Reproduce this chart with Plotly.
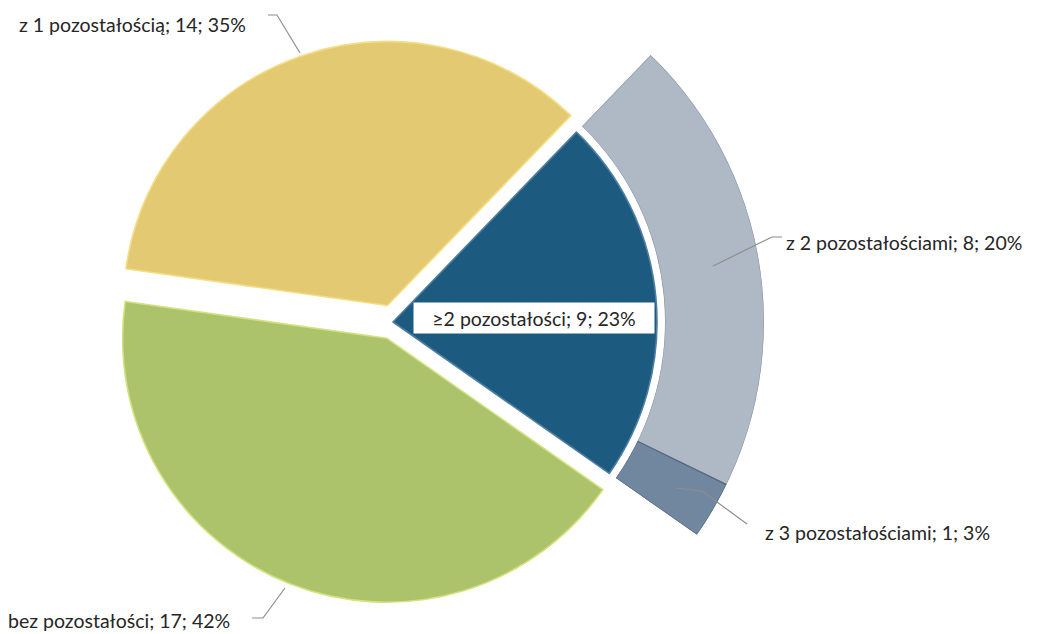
import math
import plotly.graph_objects as go

W, H = 1040, 634

# Main pie: share of samples by number of residues found
labels = ["≥2 pozostałości", "bez pozostałości", "z 1 pozostałością"]
counts = [9, 17, 14]
percents = [23, 42, 35]

# Breakdown of the "≥2" group shown as the outer ring
sub_labels = ["z 2 pozostałościami", "z 3 pozostałościami"]
sub_counts = [8, 1]
sub_percents = [20, 3]

# Styling
colors = ["#1C5A7F", "#ADC36B", "#E2C972"]
edge_colors = ["#4F7FA0", "#D2E27F", "#F3DE86"]
sub_colors = ["#AEB9C5", "#71869F"]
sub_edges = ["#8C98A6", "#55677F"]
FONT = "Lato"
FONT_SIZE = 19.5
TEXT_COLOR = "#262626"
LEADER_COLOR = "#8E8E8E"

# Geometry in pixels
CX, CY = 393, 322          # pie centre
R_PIE = 264                # pie radius
PULL = [0.0, 0.066, 0.066]
ROTATION = 44              # first slice starts 44 deg clockwise from 12 o'clock
R_RING_OUT = 371
R_RING_IN = 272

total = sum(counts)

# --- main pie -------------------------------------------------------------
half = R_PIE * (1 + max(PULL))
pie_domain = dict(
    x=[(CX - half) / W, (CX + half) / W],
    y=[1 - (CY + half) / H, 1 - (CY - half) / H],
)

fig = go.Figure()
fig.add_trace(go.Pie(
    labels=labels,
    values=counts,
    sort=False,
    direction="clockwise",
    rotation=ROTATION,
    pull=PULL,
    textinfo="none",
    hoverinfo="label+value+percent",
    marker=dict(colors=colors, line=dict(color=edge_colors, width=1.6)),
    domain=pie_domain,
    showlegend=False,
))

# --- outer ring for the "≥2" slice, drawn in a polar sector ---------------
start_deg = 90 - ROTATION                       # math angle where the slice begins
span_deg = 360 * counts[0] / total
end_deg = start_deg - span_deg
sector = [end_deg, start_deg]


def sector_bbox(s0, s1):
    """Bounding box of a polar sector (unit radius, origin included)."""
    pts_x = [0.0]
    pts_y = [0.0]
    for a in (s0, s1):
        pts_x.append(math.cos(math.radians(a)))
        pts_y.append(math.sin(math.radians(a)))
    for k in range(-4, 5):
        a = 90 * k
        if s0 <= a <= s1:
            pts_x.append(math.cos(math.radians(a)))
            pts_y.append(math.sin(math.radians(a)))
    return min(pts_x), min(pts_y), max(pts_x), max(pts_y)


bx0, by0, bx1, by1 = sector_bbox(*sector)
polar_domain = dict(
    x=[(CX + R_RING_OUT * bx0) / W, (CX + R_RING_OUT * bx1) / W],
    y=[1 - (CY - R_RING_OUT * by0) / H, 1 - (CY - R_RING_OUT * by1) / H],
)

sub_total = sum(sub_counts)
theta_c, widths = [], []
cur = start_deg
for c in sub_counts:
    w = span_deg * c / sub_total
    theta_c.append(cur - w / 2)
    widths.append(w)
    cur -= w

fig.add_trace(go.Barpolar(
    r=[1] * len(sub_counts),
    base=[0] * len(sub_counts),
    theta=theta_c,
    width=widths,
    text=sub_labels,
    hoverinfo="text",
    marker=dict(color=sub_colors, line=dict(color=sub_edges, width=1.2)),
    showlegend=False,
))

fig.update_layout(
    polar=dict(
        domain=polar_domain,
        sector=sector,
        hole=R_RING_IN / R_RING_OUT,
        bgcolor="rgba(0,0,0,0)",
        radialaxis=dict(visible=False, range=[0, 1]),
        angularaxis=dict(visible=False, rotation=0, direction="counterclockwise"),
        bargap=0,
    ),
)

# --- labels and leader lines ---------------------------------------------


def P(x, y):
    return x / W, 1 - y / H


def label_text(name, n, pct):
    return f"{name}; {n}; {pct}%"


outside = [
    # text, anchor point (left, middle), leader path
    (label_text(labels[2], counts[2], percents[2]), (17, 25),
     [(268, 15), (277, 15), (300, 53)]),
    (label_text(labels[1], counts[1], percents[1]), (6, 620),
     [(252, 618), (263, 618), (285, 588)]),
    (label_text(sub_labels[0], sub_counts[0], sub_percents[0]), (784, 242),
     [(782, 237), (772, 237), (713, 266)]),
    (label_text(sub_labels[1], sub_counts[1], sub_percents[1]), (763, 532),
     [(747, 524), (702, 491), (675, 488)]),
]

annotations = []
shapes = []
for text, (tx, ty), path in outside:
    ax, ay = P(tx, ty)
    annotations.append(dict(
        x=ax, y=ay, xref="paper", yref="paper", xanchor="left", yanchor="middle",
        text=text, showarrow=False,
        font=dict(family=FONT, size=FONT_SIZE, color=TEXT_COLOR),
    ))
    pts = [P(px, py) for px, py in path]
    d = "M " + " L ".join(f"{a:.5f},{b:.5f}" for a, b in pts)
    shapes.append(dict(type="path", path=d, xref="paper", yref="paper",
                       line=dict(color=LEADER_COLOR, width=1.2)))

# label inside the "≥2" slice on a white box
bx, byy = P(534, 318)
annotations.append(dict(
    x=bx, y=byy, xref="paper", yref="paper", xanchor="center", yanchor="middle",
    text=label_text(labels[0], counts[0], percents[0]), showarrow=False,
    font=dict(family=FONT, size=FONT_SIZE, color=TEXT_COLOR),
    bgcolor="white", borderpad=4, width=232, height=22, align="center",
))

fig.update_layout(
    width=W, height=H,
    margin=dict(l=0, r=0, t=0, b=0),
    paper_bgcolor="white",
    plot_bgcolor="white",
    annotations=annotations,
    shapes=shapes,
)

fig.write_html("out.html")
